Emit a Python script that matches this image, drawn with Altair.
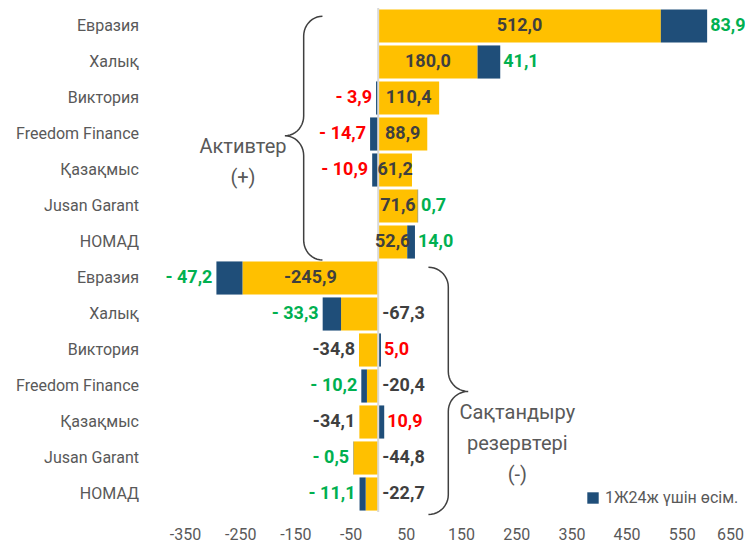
import numpy as np
import pandas as pd
import altair as alt

# ---------------- data ----------------
names = ["Евразия", "Халық", "Виктория", "Freedom Finance", "Қазақмыс", "Jusan Garant", "НОМАД"]
assets_base = [512.0, 180.0, 110.4, 88.9, 61.2, 71.6, 52.6]
assets_growth = [83.9, 41.1, -3.9, -14.7, -10.9, 0.7, 14.0]
reserves_base = [-245.9, -67.3, -34.8, -20.4, -34.1, -44.8, -22.7]
reserves_growth = [-47.2, -33.3, 5.0, -10.2, 10.9, -0.5, -11.1]
x_ticks = [-350, -250, -150, -50, 50, 150, 250, 350, 450, 550, 650]
series_names = ["База", "1Ж24ж үшін өсім."]
section_titles = ["Активтер\n(+)", "Сақтандыру\nрезервтері\n(-)"]

# ---------------- style ----------------
YELLOW = "#FFC000"
BLUE = "#1F4E79"
GREEN = "#00B050"
RED = "#FF0000"
DARK = "#3F3F3F"
GREY = "#595959"
FONT = "Roboto"
W, H = 552, 504
HALF = 0.46

labels_all = names + names
base_all = assets_base + reserves_base
growth_all = assets_growth + reserves_growth


def fmt(v):
    return f"{abs(v):.1f}".replace(".", ",")


bars, texts = [], []
for i, (b, g) in enumerate(zip(base_all, growth_all)):
    bars.append(dict(row=i, y0=i - HALF, y1=i + HALF, x0=0, x1=b, series=series_names[0]))
    if g * b > 0:
        gx0, gx1 = b, b + g
    else:
        gx0, gx1 = 0, g
    bars.append(dict(row=i, y0=i - HALF, y1=i + HALF, x0=gx0, x1=gx1, series=series_names[1]))
    # base value label
    btxt = ("-" if b < 0 else "") + fmt(b)
    if b > 0 or abs(b) > 100:
        texts.append(dict(row=i, x=b / 2, txt=btxt, pos="center", col=DARK))
    elif g < 0:
        texts.append(dict(row=i, x=0, txt=btxt, pos="right", col=DARK))
    else:
        texts.append(dict(row=i, x=b, txt=btxt, pos="left", col=DARK))
    # growth label
    gtxt = ("- " if g < 0 else "") + fmt(g)
    gcol = GREEN if g * b > 0 else RED
    if min(gx0, gx1) < 0:
        texts.append(dict(row=i, x=min(gx0, gx1), txt=gtxt, pos="left", col=gcol))
    else:
        texts.append(dict(row=i, x=max(gx0, gx1), txt=gtxt, pos="gright", col=gcol))

bars_df = pd.DataFrame(bars)
texts_df = pd.DataFrame(texts)
cat_df = pd.DataFrame(dict(row=list(range(len(labels_all))), name=labels_all))

# ---------------- braces ----------------
def brace(vx, rx, top, bottom, mid, ry, n=12):
    pts = []
    t = np.linspace(np.pi / 2, np.pi, n)
    pts += list(zip(vx + rx + rx * np.cos(t), top + ry - ry * np.sin(t)))
    t = np.linspace(0, -np.pi / 2, n)
    pts += list(zip(vx - rx + rx * np.cos(t), mid - ry - ry * np.sin(t)))
    t = np.linspace(np.pi / 2, 0, n)
    pts += list(zip(vx - rx + rx * np.cos(t), mid + ry - ry * np.sin(t)))
    t = np.linspace(np.pi, 1.5 * np.pi, n)
    pts += list(zip(vx + rx + rx * np.cos(t), bottom - ry - ry * np.sin(t)))
    return pts

b1 = brace(-135, 34, -0.27, 6.5, 3.05, 0.55)
b2 = [(2 * 127 - x, y) for x, y in brace(127, 36, 6.7, 13.57, 10.15, 0.55)]
brace_rows = []
for k, pts in enumerate([b1, b2]):
    for j, (x, y) in enumerate(pts):
        brace_rows.append(dict(grp=k, ord=j, x=x, y=y))
brace_df = pd.DataFrame(brace_rows)

sec_df = pd.DataFrame(dict(x=[-245, 252], y=[3.35, 10.74], txt=section_titles))

# ---------------- chart ----------------
xscale = alt.Scale(domain=[-350, 650], nice=False, zero=False)
yscale = alt.Scale(domain=[-0.5, 13.5], nice=False, zero=False, reverse=True)

bar_layer = alt.Chart(bars_df).mark_rect().encode(
    x=alt.X("x0:Q", scale=xscale, title=None,
            axis=alt.Axis(values=x_ticks, labelExpr="'' + datum.value", labelPadding=14,
                          labelOffset=alt.expr("datum.value == 650 ? -7 : 0"))),
    x2="x1:Q",
    y=alt.Y("y0:Q", scale=yscale, title=None, axis=None),
    y2="y1:Q",
    color=alt.Color("series:N", scale=alt.Scale(domain=series_names, range=[YELLOW, BLUE]),
                    legend=alt.Legend(values=[series_names[1]], orient="none", legendX=400,
                                      legendY=482, title=None, symbolType="square",
                                      symbolSize=130, symbolStrokeWidth=0, labelFont=FONT,
                                      labelFontSize=16, labelColor=GREY, labelOffset=4)),
)

cat_layer = alt.Chart(cat_df).mark_text(
    align="right", baseline="middle", font=FONT, fontSize=16, color=GREY
).encode(
    x=alt.value(-46),
    y=alt.Y("row:Q", scale=yscale, axis=None),
    text="name:N",
)

zero_rule = alt.Chart(pd.DataFrame(dict(x=[0]))).mark_rule(color="#D9D9D9", strokeWidth=2).encode(
    x=alt.X("x:Q", scale=xscale, title=None))


def text_layer(pos, align, dx):
    return alt.Chart(texts_df).transform_filter(alt.datum.pos == pos).mark_text(
        align=align, baseline="middle", dx=dx, font=FONT, fontSize=18, fontWeight="bold"
    ).encode(
        x=alt.X("x:Q", scale=xscale, title=None),
        y=alt.Y("row:Q", scale=yscale, axis=None),
        text="txt:N",
        fill=alt.Fill("col:N", scale=None),
    )


brace_layer = alt.Chart(brace_df).mark_line(color="#404040", strokeWidth=1.5).encode(
    x=alt.X("x:Q", scale=xscale, title=None),
    y=alt.Y("y:Q", scale=yscale, axis=None),
    detail="grp:N",
    order="ord:Q",
)

sec_layer = alt.Chart(sec_df).mark_text(
    align="center", baseline="middle", font=FONT, fontSize=20, color=GREY, lineBreak="\n",
    lineHeight=31
).encode(
    x=alt.X("x:Q", scale=xscale, title=None),
    y=alt.Y("y:Q", scale=yscale, axis=None),
    text="txt:N",
)

chart = alt.layer(
    bar_layer,
    cat_layer,
    zero_rule,
    text_layer("center", "center", 0),
    text_layer("right", "left", 4),
    text_layer("left", "right", -4),
    text_layer("gright", "left", 3),
    brace_layer,
    sec_layer,
).properties(
    width=W, height=H,
    background="white",
    autosize=alt.AutoSizeParams(type="none"),
    padding={"left": 177, "top": 0, "right": 8, "bottom": 31},
).configure_view(
    stroke=None
).configure_axis(
    grid=False, ticks=False, domain=False, labelFont=FONT, labelFontSize=16,
    labelColor=GREY, labelOverlap=False, labelFlush=False
)

chart.save("out.html", embed_options={"renderer": "svg", "actions": False})
